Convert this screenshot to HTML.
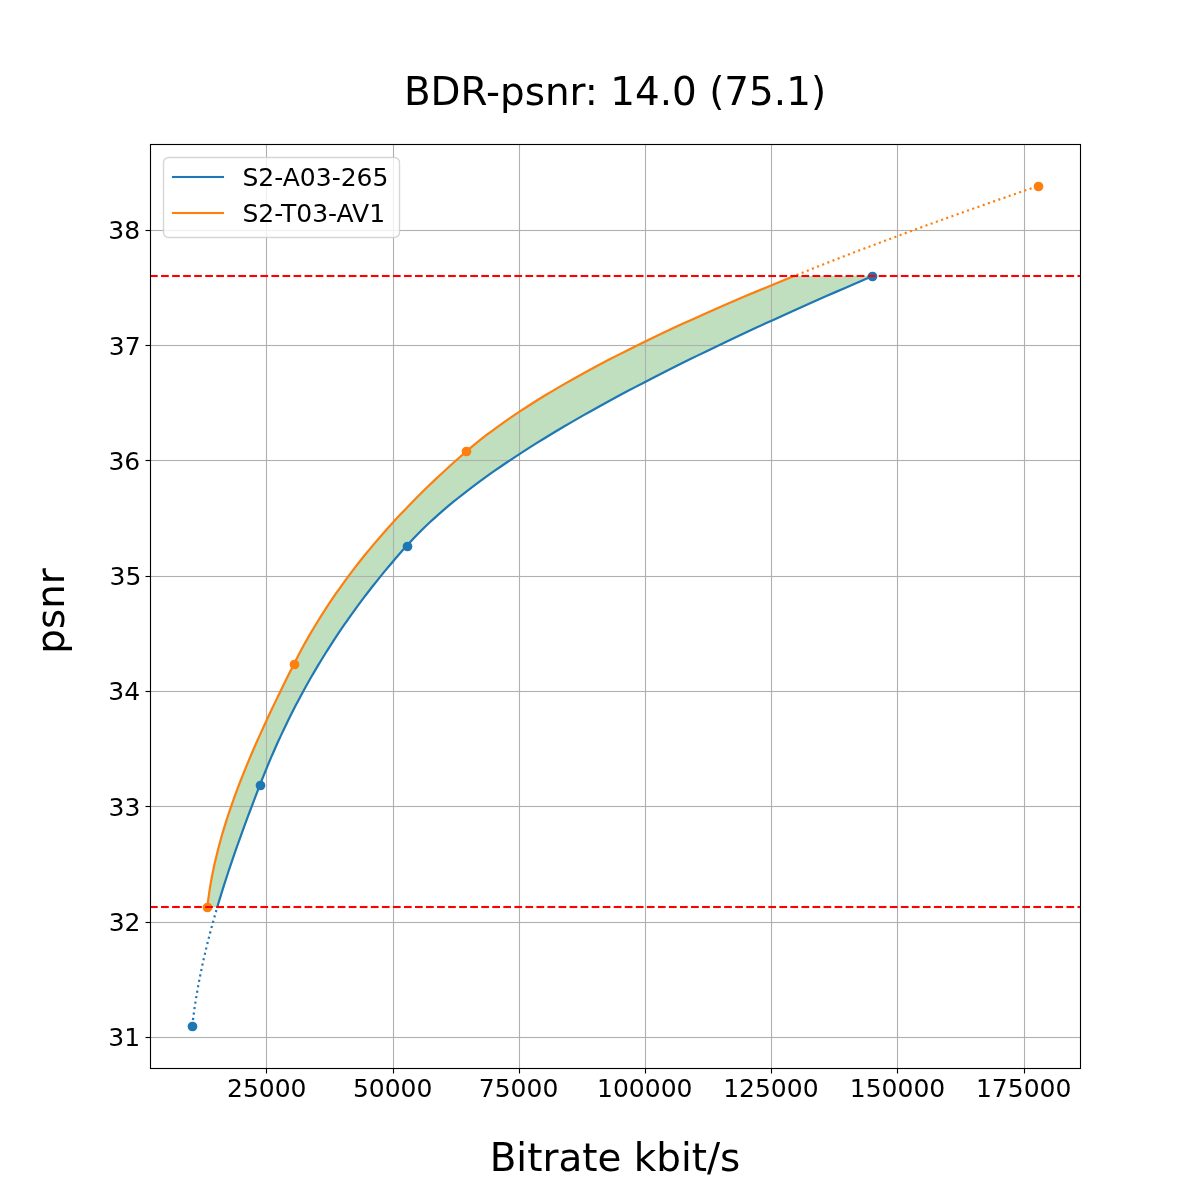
<!DOCTYPE html>
<html lang="en"><head><meta charset="utf-8"><title>BDR-psnr</title>
<style>html,body{margin:0;padding:0;background:#fff;overflow:hidden}svg{display:block}text{font-family:"DejaVu Sans","Liberation Sans",sans-serif;fill:#000}</style></head><body>
<svg width="1200" height="1200" viewBox="0 0 1200 1200">
<rect width="1200" height="1200" fill="#fff"/>
<defs><clipPath id="ax"><rect x="150" y="144" width="931" height="925"/></clipPath></defs>
<g clip-path="url(#ax)">
<path d="M217.33 907.00 L218.51 903.03 L219.70 899.06 L220.92 895.09 L222.15 891.13 L223.40 887.16 L224.66 883.19 L225.94 879.22 L227.23 875.25 L228.54 871.28 L229.86 867.31 L231.20 863.35 L232.55 859.38 L233.92 855.41 L235.29 851.44 L236.69 847.47 L238.09 843.50 L239.50 839.53 L240.93 835.57 L242.36 831.60 L243.81 827.63 L245.27 823.66 L246.73 819.69 L248.21 815.72 L249.69 811.75 L251.19 807.79 L252.69 803.82 L254.20 799.85 L255.71 795.88 L257.24 791.91 L258.77 787.94 L260.30 783.97 L261.86 780.01 L263.43 776.04 L265.04 772.07 L266.66 768.10 L268.31 764.13 L269.98 760.16 L271.68 756.19 L273.40 752.23 L275.15 748.26 L276.92 744.29 L278.72 740.32 L280.55 736.35 L282.40 732.38 L284.28 728.42 L286.19 724.45 L288.12 720.48 L290.09 716.51 L292.08 712.54 L294.10 708.57 L296.15 704.60 L298.24 700.64 L300.35 696.67 L302.49 692.70 L304.66 688.73 L306.87 684.76 L309.10 680.79 L311.37 676.82 L313.67 672.86 L316.00 668.89 L318.37 664.92 L320.77 660.95 L323.20 656.98 L325.67 653.01 L328.17 649.04 L330.71 645.08 L333.28 641.11 L335.89 637.14 L338.53 633.17 L341.22 629.20 L343.93 625.23 L346.69 621.26 L349.48 617.30 L352.31 613.33 L355.18 609.36 L358.09 605.39 L361.04 601.42 L364.02 597.45 L367.05 593.48 L370.12 589.52 L373.22 585.55 L376.37 581.58 L379.56 577.61 L382.79 573.64 L386.07 569.67 L389.39 565.70 L392.74 561.74 L396.15 557.77 L399.59 553.80 L403.08 549.83 L406.62 545.86 L410.23 541.89 L413.97 537.92 L417.83 533.96 L421.81 529.99 L425.90 526.02 L430.12 522.05 L434.45 518.08 L438.90 514.11 L443.46 510.14 L448.13 506.18 L452.92 502.21 L457.82 498.24 L462.83 494.27 L467.94 490.30 L473.16 486.33 L478.49 482.36 L483.92 478.40 L489.46 474.43 L495.10 470.46 L500.84 466.49 L506.68 462.52 L512.62 458.55 L518.66 454.58 L524.79 450.62 L531.02 446.65 L537.35 442.68 L543.76 438.71 L550.27 434.74 L556.87 430.77 L563.56 426.81 L570.34 422.84 L577.21 418.87 L584.16 414.90 L591.19 410.93 L598.31 406.96 L605.52 402.99 L612.80 399.03 L620.17 395.06 L627.61 391.09 L635.13 387.12 L642.73 383.15 L650.40 379.18 L658.15 375.21 L665.97 371.25 L673.87 367.28 L681.83 363.31 L689.87 359.34 L697.97 355.37 L706.14 351.40 L714.38 347.43 L722.68 343.47 L731.05 339.50 L739.48 335.53 L747.97 331.56 L756.52 327.59 L765.13 323.62 L773.80 319.65 L782.53 315.69 L791.31 311.72 L800.14 307.75 L809.03 303.78 L817.98 299.81 L826.97 295.84 L836.01 291.87 L845.11 287.91 L854.25 283.94 L863.43 279.97 L872.66 276.00 L794.15 276.00 L784.36 279.97 L774.67 283.94 L765.07 287.91 L755.57 291.87 L746.16 295.84 L736.84 299.81 L727.63 303.78 L718.52 307.75 L709.50 311.72 L700.59 315.69 L691.78 319.65 L683.08 323.62 L674.48 327.59 L665.99 331.56 L657.61 335.53 L649.34 339.50 L641.17 343.47 L633.12 347.43 L625.19 351.40 L617.37 355.37 L609.66 359.34 L602.07 363.31 L594.60 367.28 L587.25 371.25 L580.02 375.21 L572.91 379.18 L565.92 383.15 L559.06 387.12 L552.33 391.09 L545.72 395.06 L539.24 399.03 L532.90 402.99 L526.68 406.96 L520.59 410.93 L514.64 414.90 L508.82 418.87 L503.14 422.84 L497.60 426.81 L492.19 430.77 L486.93 434.74 L481.81 438.71 L476.83 442.68 L471.99 446.65 L467.30 450.62 L462.72 454.58 L458.21 458.55 L453.75 462.52 L449.34 466.49 L444.99 470.46 L440.69 474.43 L436.45 478.40 L432.27 482.36 L428.14 486.33 L424.06 490.30 L420.04 494.27 L416.06 498.24 L412.15 502.21 L408.28 506.18 L404.47 510.14 L400.71 514.11 L397.00 518.08 L393.34 522.05 L389.74 526.02 L386.18 529.99 L382.68 533.96 L379.23 537.92 L375.82 541.89 L372.47 545.86 L369.16 549.83 L365.91 553.80 L362.70 557.77 L359.54 561.74 L356.43 565.70 L353.37 569.67 L350.36 573.64 L347.39 577.61 L344.47 581.58 L341.60 585.55 L338.77 589.52 L335.99 593.48 L333.25 597.45 L330.56 601.42 L327.92 605.39 L325.32 609.36 L322.76 613.33 L320.25 617.30 L317.79 621.26 L315.37 625.23 L312.99 629.20 L310.65 633.17 L308.36 637.14 L306.11 641.11 L303.90 645.08 L301.73 649.04 L299.61 653.01 L297.53 656.98 L295.48 660.95 L293.48 664.92 L291.50 668.89 L289.52 672.86 L287.55 676.82 L285.58 680.79 L283.63 684.76 L281.68 688.73 L279.75 692.70 L277.82 696.67 L275.90 700.64 L274.00 704.60 L272.11 708.57 L270.23 712.54 L268.36 716.51 L266.51 720.48 L264.67 724.45 L262.85 728.42 L261.05 732.38 L259.26 736.35 L257.49 740.32 L255.73 744.29 L254.00 748.26 L252.28 752.23 L250.59 756.19 L248.91 760.16 L247.26 764.13 L245.63 768.10 L244.02 772.07 L242.43 776.04 L240.87 780.01 L239.33 783.97 L237.82 787.94 L236.33 791.91 L234.87 795.88 L233.44 799.85 L232.03 803.82 L230.66 807.79 L229.31 811.75 L227.99 815.72 L226.70 819.69 L225.44 823.66 L224.22 827.63 L223.02 831.60 L221.86 835.57 L220.73 839.53 L219.64 843.50 L218.58 847.47 L217.56 851.44 L216.57 855.41 L215.62 859.38 L214.71 863.35 L213.84 867.31 L213.00 871.28 L212.20 875.25 L211.45 879.22 L210.73 883.19 L210.06 887.16 L209.43 891.13 L208.84 895.09 L208.29 899.06 L207.79 903.03 L207.33 907.00Z" fill="#008000" fill-opacity="0.25" stroke="none"/>
<g fill="#b0b0b0">
<rect x="265.9444" y="144" width="1.1112" height="925"/>
<rect x="392.9444" y="144" width="1.1112" height="925"/>
<rect x="518.9444" y="144" width="1.1112" height="925"/>
<rect x="644.9444" y="144" width="1.1112" height="925"/>
<rect x="770.9444" y="144" width="1.1112" height="925"/>
<rect x="896.9444" y="144" width="1.1112" height="925"/>
<rect x="1023.9444" y="144" width="1.1112" height="925"/>
<rect x="150" y="1036.9444" width="931" height="1.1112"/>
<rect x="150" y="921.9444" width="931" height="1.1112"/>
<rect x="150" y="805.9444" width="931" height="1.1112"/>
<rect x="150" y="690.9444" width="931" height="1.1112"/>
<rect x="150" y="575.9444" width="931" height="1.1112"/>
<rect x="150" y="459.9444" width="931" height="1.1112"/>
<rect x="150" y="344.9444" width="931" height="1.1112"/>
<rect x="150" y="229.9444" width="931" height="1.1112"/>
</g>
<circle cx="192.5" cy="1026.5" r="4.86" fill="#1f77b4"/>
<circle cx="260.5" cy="785.5" r="4.86" fill="#1f77b4"/>
<circle cx="407.5" cy="546.5" r="4.86" fill="#1f77b4"/>
<circle cx="872.5" cy="276.5" r="4.86" fill="#1f77b4"/>
<circle cx="207.5" cy="907.5" r="4.86" fill="#ff7f0e"/>
<circle cx="294.5" cy="664.5" r="4.86" fill="#ff7f0e"/>
<circle cx="466.5" cy="451.5" r="4.86" fill="#ff7f0e"/>
<circle cx="1038.5" cy="186.5" r="4.86" fill="#ff7f0e"/>
<path d="M217.33 907.00 L218.51 903.03 L219.70 899.06 L220.92 895.09 L222.15 891.13 L223.40 887.16 L224.66 883.19 L225.94 879.22 L227.23 875.25 L228.54 871.28 L229.86 867.31 L231.20 863.35 L232.55 859.38 L233.92 855.41 L235.29 851.44 L236.69 847.47 L238.09 843.50 L239.50 839.53 L240.93 835.57 L242.36 831.60 L243.81 827.63 L245.27 823.66 L246.73 819.69 L248.21 815.72 L249.69 811.75 L251.19 807.79 L252.69 803.82 L254.20 799.85 L255.71 795.88 L257.24 791.91 L258.77 787.94 L260.30 783.97 L261.86 780.01 L263.43 776.04 L265.04 772.07 L266.66 768.10 L268.31 764.13 L269.98 760.16 L271.68 756.19 L273.40 752.23 L275.15 748.26 L276.92 744.29 L278.72 740.32 L280.55 736.35 L282.40 732.38 L284.28 728.42 L286.19 724.45 L288.12 720.48 L290.09 716.51 L292.08 712.54 L294.10 708.57 L296.15 704.60 L298.24 700.64 L300.35 696.67 L302.49 692.70 L304.66 688.73 L306.87 684.76 L309.10 680.79 L311.37 676.82 L313.67 672.86 L316.00 668.89 L318.37 664.92 L320.77 660.95 L323.20 656.98 L325.67 653.01 L328.17 649.04 L330.71 645.08 L333.28 641.11 L335.89 637.14 L338.53 633.17 L341.22 629.20 L343.93 625.23 L346.69 621.26 L349.48 617.30 L352.31 613.33 L355.18 609.36 L358.09 605.39 L361.04 601.42 L364.02 597.45 L367.05 593.48 L370.12 589.52 L373.22 585.55 L376.37 581.58 L379.56 577.61 L382.79 573.64 L386.07 569.67 L389.39 565.70 L392.74 561.74 L396.15 557.77 L399.59 553.80 L403.08 549.83 L406.62 545.86 L410.23 541.89 L413.97 537.92 L417.83 533.96 L421.81 529.99 L425.90 526.02 L430.12 522.05 L434.45 518.08 L438.90 514.11 L443.46 510.14 L448.13 506.18 L452.92 502.21 L457.82 498.24 L462.83 494.27 L467.94 490.30 L473.16 486.33 L478.49 482.36 L483.92 478.40 L489.46 474.43 L495.10 470.46 L500.84 466.49 L506.68 462.52 L512.62 458.55 L518.66 454.58 L524.79 450.62 L531.02 446.65 L537.35 442.68 L543.76 438.71 L550.27 434.74 L556.87 430.77 L563.56 426.81 L570.34 422.84 L577.21 418.87 L584.16 414.90 L591.19 410.93 L598.31 406.96 L605.52 402.99 L612.80 399.03 L620.17 395.06 L627.61 391.09 L635.13 387.12 L642.73 383.15 L650.40 379.18 L658.15 375.21 L665.97 371.25 L673.87 367.28 L681.83 363.31 L689.87 359.34 L697.97 355.37 L706.14 351.40 L714.38 347.43 L722.68 343.47 L731.05 339.50 L739.48 335.53 L747.97 331.56 L756.52 327.59 L765.13 323.62 L773.80 319.65 L782.53 315.69 L791.31 311.72 L800.14 307.75 L809.03 303.78 L817.98 299.81 L826.97 295.84 L836.01 291.87 L845.11 287.91 L854.25 283.94 L863.43 279.97 L872.66 276.00" stroke="#1f77b4" stroke-width="2.200" fill="none" stroke-linecap="square" stroke-linejoin="round"/>
<path d="M207.33 907.00 L207.79 903.03 L208.29 899.06 L208.84 895.09 L209.43 891.13 L210.06 887.16 L210.73 883.19 L211.45 879.22 L212.20 875.25 L213.00 871.28 L213.84 867.31 L214.71 863.35 L215.62 859.38 L216.57 855.41 L217.56 851.44 L218.58 847.47 L219.64 843.50 L220.73 839.53 L221.86 835.57 L223.02 831.60 L224.22 827.63 L225.44 823.66 L226.70 819.69 L227.99 815.72 L229.31 811.75 L230.66 807.79 L232.03 803.82 L233.44 799.85 L234.87 795.88 L236.33 791.91 L237.82 787.94 L239.33 783.97 L240.87 780.01 L242.43 776.04 L244.02 772.07 L245.63 768.10 L247.26 764.13 L248.91 760.16 L250.59 756.19 L252.28 752.23 L254.00 748.26 L255.73 744.29 L257.49 740.32 L259.26 736.35 L261.05 732.38 L262.85 728.42 L264.67 724.45 L266.51 720.48 L268.36 716.51 L270.23 712.54 L272.11 708.57 L274.00 704.60 L275.90 700.64 L277.82 696.67 L279.75 692.70 L281.68 688.73 L283.63 684.76 L285.58 680.79 L287.55 676.82 L289.52 672.86 L291.50 668.89 L293.48 664.92 L295.48 660.95 L297.53 656.98 L299.61 653.01 L301.73 649.04 L303.90 645.08 L306.11 641.11 L308.36 637.14 L310.65 633.17 L312.99 629.20 L315.37 625.23 L317.79 621.26 L320.25 617.30 L322.76 613.33 L325.32 609.36 L327.92 605.39 L330.56 601.42 L333.25 597.45 L335.99 593.48 L338.77 589.52 L341.60 585.55 L344.47 581.58 L347.39 577.61 L350.36 573.64 L353.37 569.67 L356.43 565.70 L359.54 561.74 L362.70 557.77 L365.91 553.80 L369.16 549.83 L372.47 545.86 L375.82 541.89 L379.23 537.92 L382.68 533.96 L386.18 529.99 L389.74 526.02 L393.34 522.05 L397.00 518.08 L400.71 514.11 L404.47 510.14 L408.28 506.18 L412.15 502.21 L416.06 498.24 L420.04 494.27 L424.06 490.30 L428.14 486.33 L432.27 482.36 L436.45 478.40 L440.69 474.43 L444.99 470.46 L449.34 466.49 L453.75 462.52 L458.21 458.55 L462.72 454.58 L467.30 450.62 L471.99 446.65 L476.83 442.68 L481.81 438.71 L486.93 434.74 L492.19 430.77 L497.60 426.81 L503.14 422.84 L508.82 418.87 L514.64 414.90 L520.59 410.93 L526.68 406.96 L532.90 402.99 L539.24 399.03 L545.72 395.06 L552.33 391.09 L559.06 387.12 L565.92 383.15 L572.91 379.18 L580.02 375.21 L587.25 371.25 L594.60 367.28 L602.07 363.31 L609.66 359.34 L617.37 355.37 L625.19 351.40 L633.12 347.43 L641.17 343.47 L649.34 339.50 L657.61 335.53 L665.99 331.56 L674.48 327.59 L683.08 323.62 L691.78 319.65 L700.59 315.69 L709.50 311.72 L718.52 307.75 L727.63 303.78 L736.84 299.81 L746.16 295.84 L755.57 291.87 L765.07 287.91 L774.67 283.94 L784.36 279.97 L794.15 276.00" stroke="#ff7f0e" stroke-width="2.200" fill="none" stroke-linecap="square" stroke-linejoin="round"/>
<path d="M192.27 1026.00 L192.50 1023.98 L192.73 1021.97 L192.98 1019.95 L193.23 1017.93 L193.49 1015.92 L193.75 1013.90 L194.03 1011.88 L194.31 1009.86 L194.60 1007.85 L194.90 1005.83 L195.20 1003.81 L195.51 1001.80 L195.83 999.78 L196.15 997.76 L196.49 995.75 L196.83 993.73 L197.17 991.71 L197.53 989.69 L197.89 987.68 L198.25 985.66 L198.63 983.64 L199.01 981.63 L199.40 979.61 L199.79 977.59 L200.19 975.58 L200.60 973.56 L201.01 971.54 L201.43 969.53 L201.86 967.51 L202.29 965.49 L202.73 963.47 L203.17 961.46 L203.62 959.44 L204.08 957.42 L204.54 955.41 L205.01 953.39 L205.49 951.37 L205.97 949.36 L206.46 947.34 L206.95 945.32 L207.45 943.31 L207.95 941.29 L208.46 939.27 L208.98 937.25 L209.50 935.24 L210.02 933.22 L210.55 931.20 L211.09 929.19 L211.63 927.17 L212.18 925.15 L212.73 923.14 L213.29 921.12 L213.85 919.10 L214.42 917.08 L214.99 915.07 L215.57 913.05 L216.15 911.03 L216.74 909.02 L217.33 907.00" stroke="#1f77b4" stroke-width="2.200" fill="none" stroke-dasharray="2.083 3.438" stroke-dashoffset="-0.5"/>
<path d="M794.15 276.00 L796.03 275.24 L797.90 274.49 L799.79 273.73 L801.67 272.97 L803.56 272.22 L805.45 271.46 L807.35 270.71 L809.25 269.95 L811.15 269.19 L813.05 268.44 L814.96 267.68 L816.87 266.92 L818.79 266.17 L820.70 265.41 L822.62 264.66 L824.55 263.90 L826.47 263.14 L828.41 262.39 L830.34 261.63 L832.28 260.87 L834.22 260.12 L836.16 259.36 L838.10 258.61 L840.05 257.85 L842.01 257.09 L843.96 256.34 L845.92 255.58 L847.88 254.82 L849.85 254.07 L851.81 253.31 L853.78 252.55 L855.76 251.80 L857.73 251.04 L859.71 250.29 L861.70 249.53 L863.68 248.77 L865.67 248.02 L867.66 247.26 L869.66 246.50 L871.66 245.75 L873.66 244.99 L875.66 244.24 L877.67 243.48 L879.68 242.72 L881.69 241.97 L883.71 241.21 L885.72 240.45 L887.74 239.70 L889.77 238.94 L891.80 238.18 L893.83 237.43 L895.86 236.67 L897.90 235.92 L899.93 235.16 L901.98 234.40 L904.02 233.65 L906.07 232.89 L908.12 232.13 L910.17 231.38 L912.23 230.62 L914.28 229.87 L916.35 229.11 L918.41 228.35 L920.48 227.60 L922.55 226.84 L924.62 226.08 L926.69 225.33 L928.77 224.57 L930.85 223.82 L932.94 223.06 L935.02 222.30 L937.11 221.55 L939.20 220.79 L941.30 220.03 L943.39 219.28 L945.49 218.52 L947.60 217.76 L949.70 217.01 L951.81 216.25 L953.92 215.50 L956.03 214.74 L958.15 213.98 L960.27 213.23 L962.39 212.47 L964.51 211.71 L966.64 210.96 L968.76 210.20 L970.90 209.45 L973.03 208.69 L975.17 207.93 L977.30 207.18 L979.45 206.42 L981.59 205.66 L983.74 204.91 L985.89 204.15 L988.04 203.39 L990.19 202.64 L992.35 201.88 L994.51 201.13 L996.67 200.37 L998.83 199.61 L1001.00 198.86 L1003.17 198.10 L1005.34 197.34 L1007.51 196.59 L1009.69 195.83 L1011.87 195.08 L1014.05 194.32 L1016.23 193.56 L1018.42 192.81 L1020.61 192.05 L1022.80 191.29 L1024.99 190.54 L1027.19 189.78 L1029.39 189.03 L1031.59 188.27 L1033.79 187.51 L1035.99 186.76 L1038.20 186.00" stroke="#ff7f0e" stroke-width="2.200" fill="none" stroke-dasharray="2.083 3.438" stroke-dashoffset="-2.6"/>
<g fill="#ff0000">
<rect x="150.000" y="905.9583" width="7.708" height="2.0833"/>
<rect x="161.042" y="905.9583" width="7.708" height="2.0833"/>
<rect x="172.083" y="905.9583" width="7.708" height="2.0833"/>
<rect x="183.125" y="905.9583" width="7.708" height="2.0833"/>
<rect x="194.167" y="905.9583" width="7.708" height="2.0833"/>
<rect x="205.208" y="905.9583" width="7.708" height="2.0833"/>
<rect x="216.250" y="905.9583" width="7.708" height="2.0833"/>
<rect x="227.292" y="905.9583" width="7.708" height="2.0833"/>
<rect x="238.333" y="905.9583" width="7.708" height="2.0833"/>
<rect x="249.375" y="905.9583" width="7.708" height="2.0833"/>
<rect x="260.417" y="905.9583" width="7.708" height="2.0833"/>
<rect x="271.458" y="905.9583" width="7.708" height="2.0833"/>
<rect x="282.500" y="905.9583" width="7.708" height="2.0833"/>
<rect x="293.542" y="905.9583" width="7.708" height="2.0833"/>
<rect x="304.583" y="905.9583" width="7.708" height="2.0833"/>
<rect x="315.625" y="905.9583" width="7.708" height="2.0833"/>
<rect x="326.667" y="905.9583" width="7.708" height="2.0833"/>
<rect x="337.708" y="905.9583" width="7.708" height="2.0833"/>
<rect x="348.750" y="905.9583" width="7.708" height="2.0833"/>
<rect x="359.792" y="905.9583" width="7.708" height="2.0833"/>
<rect x="370.833" y="905.9583" width="7.708" height="2.0833"/>
<rect x="381.875" y="905.9583" width="7.708" height="2.0833"/>
<rect x="392.917" y="905.9583" width="7.708" height="2.0833"/>
<rect x="403.958" y="905.9583" width="7.708" height="2.0833"/>
<rect x="415.000" y="905.9583" width="7.708" height="2.0833"/>
<rect x="426.042" y="905.9583" width="7.708" height="2.0833"/>
<rect x="437.083" y="905.9583" width="7.708" height="2.0833"/>
<rect x="448.125" y="905.9583" width="7.708" height="2.0833"/>
<rect x="459.167" y="905.9583" width="7.708" height="2.0833"/>
<rect x="470.208" y="905.9583" width="7.708" height="2.0833"/>
<rect x="481.250" y="905.9583" width="7.708" height="2.0833"/>
<rect x="492.292" y="905.9583" width="7.708" height="2.0833"/>
<rect x="503.333" y="905.9583" width="7.708" height="2.0833"/>
<rect x="514.375" y="905.9583" width="7.708" height="2.0833"/>
<rect x="525.417" y="905.9583" width="7.708" height="2.0833"/>
<rect x="536.458" y="905.9583" width="7.708" height="2.0833"/>
<rect x="547.500" y="905.9583" width="7.708" height="2.0833"/>
<rect x="558.542" y="905.9583" width="7.708" height="2.0833"/>
<rect x="569.583" y="905.9583" width="7.708" height="2.0833"/>
<rect x="580.625" y="905.9583" width="7.708" height="2.0833"/>
<rect x="591.667" y="905.9583" width="7.708" height="2.0833"/>
<rect x="602.708" y="905.9583" width="7.708" height="2.0833"/>
<rect x="613.750" y="905.9583" width="7.708" height="2.0833"/>
<rect x="624.792" y="905.9583" width="7.708" height="2.0833"/>
<rect x="635.833" y="905.9583" width="7.708" height="2.0833"/>
<rect x="646.875" y="905.9583" width="7.708" height="2.0833"/>
<rect x="657.917" y="905.9583" width="7.708" height="2.0833"/>
<rect x="668.958" y="905.9583" width="7.708" height="2.0833"/>
<rect x="680.000" y="905.9583" width="7.708" height="2.0833"/>
<rect x="691.042" y="905.9583" width="7.708" height="2.0833"/>
<rect x="702.083" y="905.9583" width="7.708" height="2.0833"/>
<rect x="713.125" y="905.9583" width="7.708" height="2.0833"/>
<rect x="724.167" y="905.9583" width="7.708" height="2.0833"/>
<rect x="735.208" y="905.9583" width="7.708" height="2.0833"/>
<rect x="746.250" y="905.9583" width="7.708" height="2.0833"/>
<rect x="757.292" y="905.9583" width="7.708" height="2.0833"/>
<rect x="768.333" y="905.9583" width="7.708" height="2.0833"/>
<rect x="779.375" y="905.9583" width="7.708" height="2.0833"/>
<rect x="790.417" y="905.9583" width="7.708" height="2.0833"/>
<rect x="801.458" y="905.9583" width="7.708" height="2.0833"/>
<rect x="812.500" y="905.9583" width="7.708" height="2.0833"/>
<rect x="823.542" y="905.9583" width="7.708" height="2.0833"/>
<rect x="834.583" y="905.9583" width="7.708" height="2.0833"/>
<rect x="845.625" y="905.9583" width="7.708" height="2.0833"/>
<rect x="856.667" y="905.9583" width="7.708" height="2.0833"/>
<rect x="867.708" y="905.9583" width="7.708" height="2.0833"/>
<rect x="878.750" y="905.9583" width="7.708" height="2.0833"/>
<rect x="889.792" y="905.9583" width="7.708" height="2.0833"/>
<rect x="900.833" y="905.9583" width="7.708" height="2.0833"/>
<rect x="911.875" y="905.9583" width="7.708" height="2.0833"/>
<rect x="922.917" y="905.9583" width="7.708" height="2.0833"/>
<rect x="933.958" y="905.9583" width="7.708" height="2.0833"/>
<rect x="945.000" y="905.9583" width="7.708" height="2.0833"/>
<rect x="956.042" y="905.9583" width="7.708" height="2.0833"/>
<rect x="967.083" y="905.9583" width="7.708" height="2.0833"/>
<rect x="978.125" y="905.9583" width="7.708" height="2.0833"/>
<rect x="989.167" y="905.9583" width="7.708" height="2.0833"/>
<rect x="1000.208" y="905.9583" width="7.708" height="2.0833"/>
<rect x="1011.250" y="905.9583" width="7.708" height="2.0833"/>
<rect x="1022.292" y="905.9583" width="7.708" height="2.0833"/>
<rect x="1033.333" y="905.9583" width="7.708" height="2.0833"/>
<rect x="1044.375" y="905.9583" width="7.708" height="2.0833"/>
<rect x="1055.417" y="905.9583" width="7.708" height="2.0833"/>
<rect x="1066.458" y="905.9583" width="7.708" height="2.0833"/>
<rect x="1077.500" y="905.9583" width="3.500" height="2.0833"/>
<rect x="150.000" y="274.9583" width="7.708" height="2.0833"/>
<rect x="161.042" y="274.9583" width="7.708" height="2.0833"/>
<rect x="172.083" y="274.9583" width="7.708" height="2.0833"/>
<rect x="183.125" y="274.9583" width="7.708" height="2.0833"/>
<rect x="194.167" y="274.9583" width="7.708" height="2.0833"/>
<rect x="205.208" y="274.9583" width="7.708" height="2.0833"/>
<rect x="216.250" y="274.9583" width="7.708" height="2.0833"/>
<rect x="227.292" y="274.9583" width="7.708" height="2.0833"/>
<rect x="238.333" y="274.9583" width="7.708" height="2.0833"/>
<rect x="249.375" y="274.9583" width="7.708" height="2.0833"/>
<rect x="260.417" y="274.9583" width="7.708" height="2.0833"/>
<rect x="271.458" y="274.9583" width="7.708" height="2.0833"/>
<rect x="282.500" y="274.9583" width="7.708" height="2.0833"/>
<rect x="293.542" y="274.9583" width="7.708" height="2.0833"/>
<rect x="304.583" y="274.9583" width="7.708" height="2.0833"/>
<rect x="315.625" y="274.9583" width="7.708" height="2.0833"/>
<rect x="326.667" y="274.9583" width="7.708" height="2.0833"/>
<rect x="337.708" y="274.9583" width="7.708" height="2.0833"/>
<rect x="348.750" y="274.9583" width="7.708" height="2.0833"/>
<rect x="359.792" y="274.9583" width="7.708" height="2.0833"/>
<rect x="370.833" y="274.9583" width="7.708" height="2.0833"/>
<rect x="381.875" y="274.9583" width="7.708" height="2.0833"/>
<rect x="392.917" y="274.9583" width="7.708" height="2.0833"/>
<rect x="403.958" y="274.9583" width="7.708" height="2.0833"/>
<rect x="415.000" y="274.9583" width="7.708" height="2.0833"/>
<rect x="426.042" y="274.9583" width="7.708" height="2.0833"/>
<rect x="437.083" y="274.9583" width="7.708" height="2.0833"/>
<rect x="448.125" y="274.9583" width="7.708" height="2.0833"/>
<rect x="459.167" y="274.9583" width="7.708" height="2.0833"/>
<rect x="470.208" y="274.9583" width="7.708" height="2.0833"/>
<rect x="481.250" y="274.9583" width="7.708" height="2.0833"/>
<rect x="492.292" y="274.9583" width="7.708" height="2.0833"/>
<rect x="503.333" y="274.9583" width="7.708" height="2.0833"/>
<rect x="514.375" y="274.9583" width="7.708" height="2.0833"/>
<rect x="525.417" y="274.9583" width="7.708" height="2.0833"/>
<rect x="536.458" y="274.9583" width="7.708" height="2.0833"/>
<rect x="547.500" y="274.9583" width="7.708" height="2.0833"/>
<rect x="558.542" y="274.9583" width="7.708" height="2.0833"/>
<rect x="569.583" y="274.9583" width="7.708" height="2.0833"/>
<rect x="580.625" y="274.9583" width="7.708" height="2.0833"/>
<rect x="591.667" y="274.9583" width="7.708" height="2.0833"/>
<rect x="602.708" y="274.9583" width="7.708" height="2.0833"/>
<rect x="613.750" y="274.9583" width="7.708" height="2.0833"/>
<rect x="624.792" y="274.9583" width="7.708" height="2.0833"/>
<rect x="635.833" y="274.9583" width="7.708" height="2.0833"/>
<rect x="646.875" y="274.9583" width="7.708" height="2.0833"/>
<rect x="657.917" y="274.9583" width="7.708" height="2.0833"/>
<rect x="668.958" y="274.9583" width="7.708" height="2.0833"/>
<rect x="680.000" y="274.9583" width="7.708" height="2.0833"/>
<rect x="691.042" y="274.9583" width="7.708" height="2.0833"/>
<rect x="702.083" y="274.9583" width="7.708" height="2.0833"/>
<rect x="713.125" y="274.9583" width="7.708" height="2.0833"/>
<rect x="724.167" y="274.9583" width="7.708" height="2.0833"/>
<rect x="735.208" y="274.9583" width="7.708" height="2.0833"/>
<rect x="746.250" y="274.9583" width="7.708" height="2.0833"/>
<rect x="757.292" y="274.9583" width="7.708" height="2.0833"/>
<rect x="768.333" y="274.9583" width="7.708" height="2.0833"/>
<rect x="779.375" y="274.9583" width="7.708" height="2.0833"/>
<rect x="790.417" y="274.9583" width="7.708" height="2.0833"/>
<rect x="801.458" y="274.9583" width="7.708" height="2.0833"/>
<rect x="812.500" y="274.9583" width="7.708" height="2.0833"/>
<rect x="823.542" y="274.9583" width="7.708" height="2.0833"/>
<rect x="834.583" y="274.9583" width="7.708" height="2.0833"/>
<rect x="845.625" y="274.9583" width="7.708" height="2.0833"/>
<rect x="856.667" y="274.9583" width="7.708" height="2.0833"/>
<rect x="867.708" y="274.9583" width="7.708" height="2.0833"/>
<rect x="878.750" y="274.9583" width="7.708" height="2.0833"/>
<rect x="889.792" y="274.9583" width="7.708" height="2.0833"/>
<rect x="900.833" y="274.9583" width="7.708" height="2.0833"/>
<rect x="911.875" y="274.9583" width="7.708" height="2.0833"/>
<rect x="922.917" y="274.9583" width="7.708" height="2.0833"/>
<rect x="933.958" y="274.9583" width="7.708" height="2.0833"/>
<rect x="945.000" y="274.9583" width="7.708" height="2.0833"/>
<rect x="956.042" y="274.9583" width="7.708" height="2.0833"/>
<rect x="967.083" y="274.9583" width="7.708" height="2.0833"/>
<rect x="978.125" y="274.9583" width="7.708" height="2.0833"/>
<rect x="989.167" y="274.9583" width="7.708" height="2.0833"/>
<rect x="1000.208" y="274.9583" width="7.708" height="2.0833"/>
<rect x="1011.250" y="274.9583" width="7.708" height="2.0833"/>
<rect x="1022.292" y="274.9583" width="7.708" height="2.0833"/>
<rect x="1033.333" y="274.9583" width="7.708" height="2.0833"/>
<rect x="1044.375" y="274.9583" width="7.708" height="2.0833"/>
<rect x="1055.417" y="274.9583" width="7.708" height="2.0833"/>
<rect x="1066.458" y="274.9583" width="7.708" height="2.0833"/>
<rect x="1077.500" y="274.9583" width="3.500" height="2.0833"/>
</g>
</g>
<rect x="150.5" y="144.5" width="930.0" height="924.0" fill="none" stroke="#000" stroke-width="1.111"/>
<g fill="#000">
<rect x="265.9444" y="1068.5" width="1.1112" height="5"/>
<rect x="392.9444" y="1068.5" width="1.1112" height="5"/>
<rect x="518.9444" y="1068.5" width="1.1112" height="5"/>
<rect x="644.9444" y="1068.5" width="1.1112" height="5"/>
<rect x="770.9444" y="1068.5" width="1.1112" height="5"/>
<rect x="896.9444" y="1068.5" width="1.1112" height="5"/>
<rect x="1023.9444" y="1068.5" width="1.1112" height="5"/>
<rect x="145.5" y="1036.9444" width="5" height="1.1112"/>
<rect x="145.5" y="921.9444" width="5" height="1.1112"/>
<rect x="145.5" y="805.9444" width="5" height="1.1112"/>
<rect x="145.5" y="690.9444" width="5" height="1.1112"/>
<rect x="145.5" y="575.9444" width="5" height="1.1112"/>
<rect x="145.5" y="459.9444" width="5" height="1.1112"/>
<rect x="145.5" y="344.9444" width="5" height="1.1112"/>
<rect x="145.5" y="229.9444" width="5" height="1.1112"/>
</g>
<text x="266.75" y="1096.72" font-size="25.000" text-anchor="middle">25000</text>
<text x="392.65" y="1096.72" font-size="25.000" text-anchor="middle">50000</text>
<text x="518.55" y="1096.72" font-size="25.000" text-anchor="middle">75000</text>
<text x="644.75" y="1096.72" font-size="25.000" text-anchor="middle">100000</text>
<text x="770.85" y="1096.72" font-size="25.000" text-anchor="middle">125000</text>
<text x="897.50" y="1096.72" font-size="25.000" text-anchor="middle">150000</text>
<text x="1023.65" y="1096.72" font-size="25.000" text-anchor="middle">175000</text>
<text x="140.08" y="1046.00" font-size="25.000" text-anchor="end">31</text>
<text x="140.53" y="931.00" font-size="25.000" text-anchor="end">32</text>
<text x="140.38" y="816.00" font-size="25.000" text-anchor="end">33</text>
<text x="140.18" y="700.00" font-size="25.000" text-anchor="end">34</text>
<text x="141.38" y="585.00" font-size="25.000" text-anchor="end">35</text>
<text x="140.23" y="470.00" font-size="25.000" text-anchor="end">36</text>
<text x="140.58" y="355.00" font-size="25.000" text-anchor="end">37</text>
<text x="140.18" y="239.00" font-size="25.000" text-anchor="end">38</text>
<text x="615" y="1171.4" font-size="38.889" text-anchor="middle">Bitrate kbit/s</text>
<text transform="translate(64.49 611) rotate(-90)" font-size="38.889" text-anchor="middle">psnr</text>
<text x="615" y="105.11" font-size="38.889" text-anchor="middle">BDR-psnr: 14.0 (75.1)</text>
<rect x="163.5" y="157.5" width="236" height="80" rx="5" ry="5" fill="#fff" fill-opacity="0.8" stroke="#ccc" stroke-opacity="0.8" stroke-width="1.389"/>
<rect x="171.958" y="175.9583" width="52.083" height="2.0833" fill="#1f77b4"/>
<rect x="171.958" y="211.9583" width="52.083" height="2.0833" fill="#ff7f0e"/>
<text x="242.5" y="185.5" font-size="25.000">S2-A03-265</text>
<text x="242.5" y="222.19" font-size="25.000">S2-T03-AV1</text>
</svg></body></html>
